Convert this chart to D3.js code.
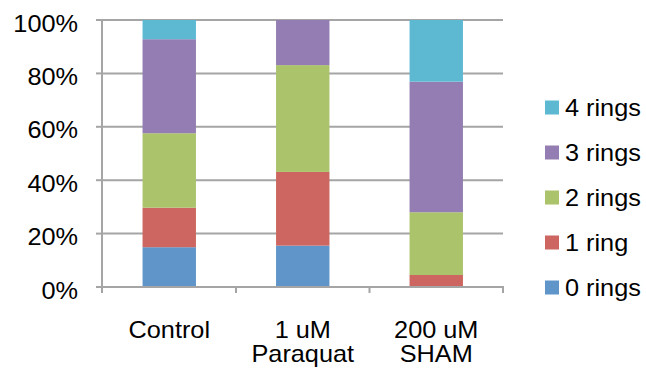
<!DOCTYPE html>
<html><head><meta charset="utf-8">
<script src="https://cdn.jsdelivr.net/npm/d3@7"></script>
<style>
html,body{margin:0;padding:0;background:#fff;}
svg{display:block;}
text{font-family:"Liberation Sans",Arial,sans-serif;fill:#000;}
</style></head>
<body>
<svg id="chart" width="646" height="375"></svg>
<script>
const categories = ["Control", "1 uM\nParaquat", "200 uM\nSHAM"];
const seriesNames = ["0 rings", "1 ring", "2 rings", "3 rings", "4 rings"];
const rings0 = [14.9, 15.5, 0];
const rings1 = [14.8, 27.6, 4.5];
const rings2 = [27.9, 40.0, 23.5];
const rings3 = [35.2, 16.9, 48.9];
const rings4 = [7.2, 0, 23.1];
const yTicks = [0, 20, 40, 60, 80, 100];
const colors = ["#5F95C9", "#CD6660", "#ABC36B", "#937DB2", "#5CB9D1"];

const seriesVals = [rings0, rings1, rings2, rings3, rings4];
const rows = categories.map((c, i) => {
  const r = {cat: c};
  seriesNames.forEach((s, j) => r[s] = seriesVals[j][i]);
  return r;
});

const svg = d3.select("#chart");
const x = d3.scaleBand().domain(categories).range([102.5, 503]).padding(0);
const y = d3.scaleLinear().domain([0, 100]).range([287, 20]);
const grid = "#A5A5A5";
const sx = 1.1;

// gridlines
svg.append("g").selectAll("line").data(yTicks.filter(t => t > 0)).join("line")
  .attr("x1", 102).attr("x2", 503)
  .attr("y1", d => y(d)).attr("y2", d => y(d))
  .attr("stroke", grid).attr("stroke-width", 2);

// bars
const stack = d3.stack().keys(seriesNames)(rows);
svg.append("g").selectAll("g").data(stack).join("g")
  .attr("fill", (d, i) => colors[i])
  .selectAll("rect").data(d => d.map(v => ({v, cat: v.data.cat}))).join("rect")
  .attr("x", d => x(d.cat) + x.bandwidth() * 0.3)
  .attr("width", x.bandwidth() * 0.4)
  .attr("y", d => y(d.v[1]))
  .attr("height", d => y(d.v[0]) - y(d.v[1]));

// y axis
svg.append("line").attr("x1", 102).attr("x2", 102).attr("y1", 19).attr("y2", 293)
  .attr("stroke", grid).attr("stroke-width", 2);
svg.append("g").selectAll("line").data(yTicks).join("line")
  .attr("x1", 96).attr("x2", 102).attr("y1", d => y(d)).attr("y2", d => y(d))
  .attr("stroke", grid).attr("stroke-width", 2);
// x axis
svg.append("line").attr("x1", 101).attr("x2", 504).attr("y1", 287).attr("y2", 287)
  .attr("stroke", grid).attr("stroke-width", 2);
svg.append("g").selectAll("line").data(categories).join("line")
  .attr("x1", d => x(d) + x.bandwidth()).attr("x2", d => x(d) + x.bandwidth())
  .attr("y1", 287).attr("y2", 293)
  .attr("stroke", grid).attr("stroke-width", 2);

// y labels
svg.append("g").selectAll("text").data(yTicks).join("text")
  .attr("transform", d => `translate(78,${y(d) + 11.5}) scale(${sx},1)`)
  .attr("text-anchor", "end").attr("font-size", 23)
  .text(d => d + "%");

// x labels
const xl = svg.append("g").selectAll("text").data(categories).join("text")
  .attr("transform", d => `translate(${x(d) + x.bandwidth() / 2},337.5) scale(${sx},1)`)
  .attr("text-anchor", "middle").attr("font-size", 23);
xl.selectAll("tspan").data(d => d.split("\n")).join("tspan")
  .attr("x", 0).attr("dy", (d, i) => i === 0 ? 0 : 25).text(d => d);

// legend
const leg = svg.append("g").selectAll("g").data(seriesNames.slice().reverse()).join("g")
  .attr("transform", (d, i) => `translate(545,${107.5 + i * 45})`);
leg.append("rect").attr("x", 0).attr("y", -7).attr("width", 14).attr("height", 14)
  .attr("fill", d => colors[seriesNames.indexOf(d)]);
leg.append("text").attr("transform", `translate(20,8.5) scale(${sx},1)`)
  .attr("font-size", 23).text(d => d);
</script>
</body></html>
